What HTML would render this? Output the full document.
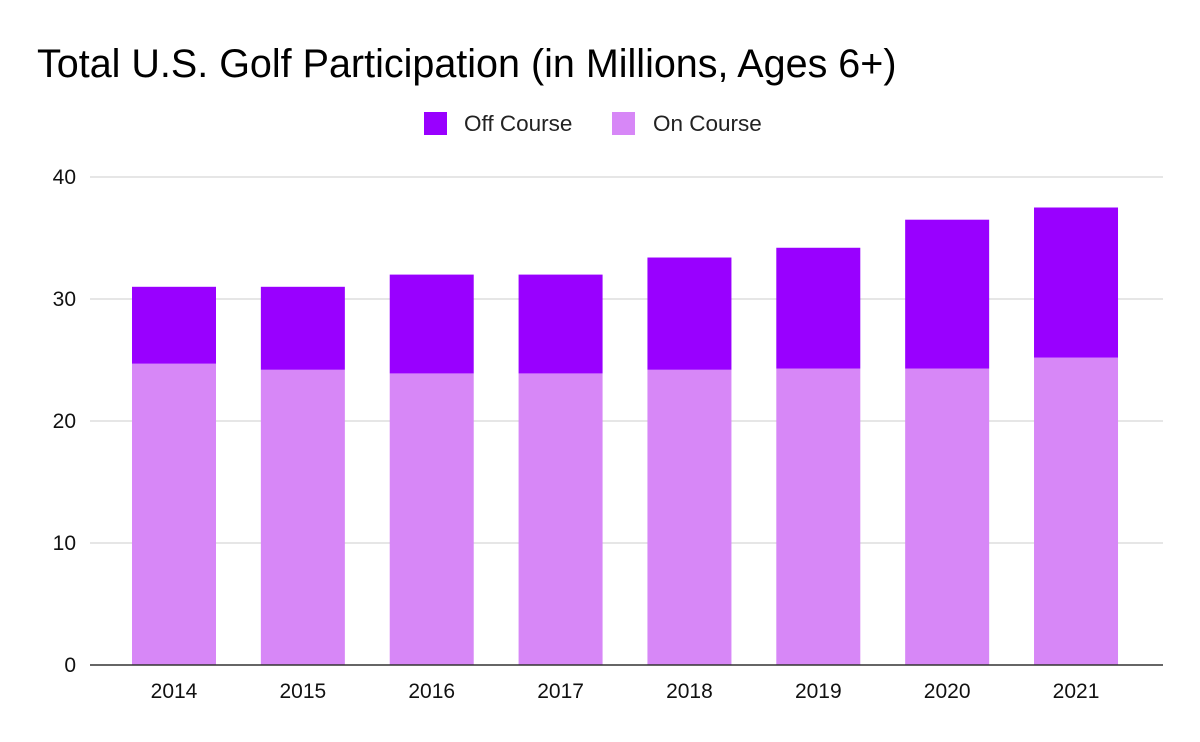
<!DOCTYPE html>
<html><head><meta charset="utf-8"><style>
body{margin:0;background:#fff;font-family:"Liberation Sans",Arial,sans-serif}
svg{display:block}
</style></head><body>
<svg id="chart" width="1200" height="742">
<text x="37" y="77" font-size="39.5" fill="#000">Total U.S. Golf Participation (in Millions, Ages 6+)</text>
<g>
<rect x="424" y="112" width="23" height="23" fill="#9900ff"/>
<text x="464" y="131" font-size="22.5" fill="#222">Off Course</text>
<rect x="612" y="112" width="23" height="23" fill="#d787f7"/>
<text x="653" y="131" font-size="22.5" fill="#222">On Course</text>
</g>
<g id="grid"></g><g id="bars"></g><g id="axes"></g>
</svg>
<script>
const categories=["2014","2015","2016","2017","2018","2019","2020","2021"];
const onCourse=[24.7,24.2,23.9,23.9,24.2,24.3,24.3,25.2];
const offCourse=[6.3,6.8,8.1,8.1,9.2,9.9,12.2,12.3];
const yTicks=[0,10,20,30,40];
const NS="http://www.w3.org/2000/svg";
const x0=90,x1=1163,yBase=665,yTop=177,yMax=40;
const y=v=>yBase-(v/yMax)*(yBase-yTop);
const cx=i=>174+i*128.86;
const bw=84;
function mk(t,a,p){const e=document.createElementNS(NS,t);for(const k in a)e.setAttribute(k,a[k]);p.appendChild(e);return e;}
const grid=document.getElementById('grid'),bars=document.getElementById('bars'),axes=document.getElementById('axes');
yTicks.forEach(v=>{
 if(v>0){const l=mk('line',{x1:x0,x2:x1,y1:y(v),y2:y(v),stroke:'#ccc','stroke-width':1},grid);
 
 }
 const t=mk('text',{x:76,y:y(v)+7,'font-size':21,'text-anchor':'end',fill:'#111'},axes);t.textContent=v;
 
 
});
categories.forEach((c,i)=>{
 const a=mk('rect',{x:cx(i)-bw/2,y:y(onCourse[i]),width:bw,height:yBase-y(onCourse[i]),fill:'#d787f7'},bars);
 
 
 const tot=onCourse[i]+offCourse[i];
 const b=mk('rect',{x:cx(i)-bw/2,y:y(tot),width:bw,height:y(onCourse[i])-y(tot),fill:'#9900ff'},bars);
 
 
 const t=mk('text',{x:cx(i),y:698,'font-size':21,'text-anchor':'middle',fill:'#111'},axes);t.textContent=c;
 
 
});
const ax=mk('line',{x1:x0,x2:x1,y1:yBase,y2:yBase,stroke:'#333','stroke-width':1.5},axes);


</script>
</body></html>
